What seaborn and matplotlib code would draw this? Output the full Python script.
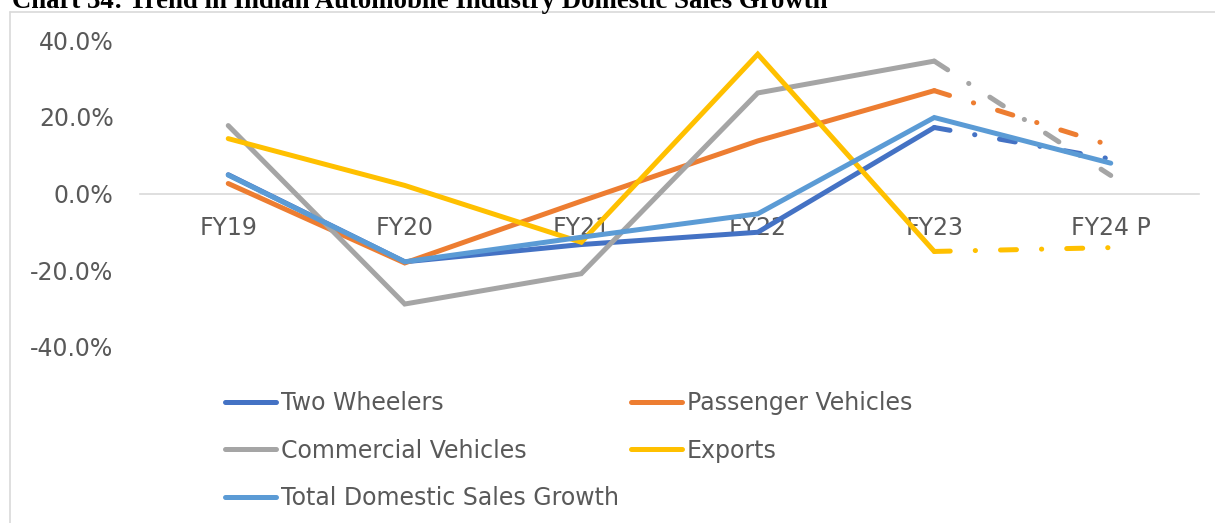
import matplotlib
matplotlib.use("Agg")
import matplotlib.pyplot as plt
from matplotlib.lines import Line2D
import seaborn as sns
import pandas as pd

years = ["FY19", "FY20", "FY21", "FY22", "FY23", "FY24 P"]
two_wheelers = [4.9, -17.8, -13.3, -10.1, 17.2, 9.0]
passenger_vehicles = [2.6, -18.1, -2.0, 13.7, 26.8, 12.5]
commercial_vehicles = [17.7, -28.8, -20.9, 26.2, 34.5, 4.7]
exports = [14.3, 2.1, -12.7, 36.3, -15.1, -14.1]
total_domestic = [4.8, -17.8, -11.4, -5.3, 19.8, 7.9]

series = {
    "Two Wheelers": two_wheelers,
    "Passenger Vehicles": passenger_vehicles,
    "Commercial Vehicles": commercial_vehicles,
    "Exports": exports,
    "Total Domestic Sales Growth": total_domestic,
}
colors = {
    "Two Wheelers": "#4472C4",
    "Passenger Vehicles": "#ED7D31",
    "Commercial Vehicles": "#A5A5A5",
    "Exports": "#FFC000",
    "Total Domestic Sales Growth": "#5B9BD5",
}
projected = ["Two Wheelers", "Passenger Vehicles", "Commercial Vehicles", "Exports"]

rows = []
for name, vals in series.items():
    for i, (yr, v) in enumerate(zip(years, vals)):
        rows.append({"pos": i, "Year": yr, "Growth": v, "Segment": name})
df = pd.DataFrame(rows)

# actuals: solid up to FY23 (total drawn solid throughout)
last_actual = years.index("FY23")
solid = df[(df["pos"] <= last_actual) | (df["Segment"] == "Total Domestic Sales Growth")]
proj = df[(df["pos"] >= last_actual) & (df["Segment"].isin(projected))]

sns.set_theme(style="white")
plt.rcParams["font.family"] = ["DejaVu Sans"]
text_color = "#595959"

W, H = 1215, 523
fig = plt.figure(figsize=(W / 100, H / 100), dpi=100)
ax = fig.add_axes([140 / W, 1 - 347 / H, 1059 / W, 307 / H])

lw = 3.6
for name in projected:
    sub = proj[proj["Segment"] == name]
    sns.lineplot(data=sub, x="pos", y="Growth", color=colors[name], linewidth=lw,
                 ax=ax, legend=False, sort=False,
                 linestyle=(0, (3.2, 5, 0.05, 5)), dash_capstyle="round",
                 solid_capstyle="round")

for name in series:
    sub = solid[solid["Segment"] == name]
    sns.lineplot(data=sub, x="pos", y="Growth", color=colors[name], linewidth=lw,
                 ax=ax, legend=False, sort=False, solid_capstyle="round",
                 solid_joinstyle="miter")

ax.set_xlim(-0.5, len(years) - 0.5)
ax.set_ylim(-40, 40)
ax.set_xticks(range(len(years)))
ax.set_xticklabels(years)
ax.set_yticks([-40, -20, 0, 20, 40])
ax.set_yticklabels([f"{v:.1f}%" for v in [-40, -20, 0, 20, 40]])
ax.set_xlabel("")
ax.set_ylabel("")
ax.grid(False)

for s in ["top", "right", "left"]:
    ax.spines[s].set_visible(False)
ax.spines["bottom"].set_position(("data", 0))
ax.spines["bottom"].set_color("#D9D9D9")
ax.spines["bottom"].set_linewidth(1.2)
ax.spines["bottom"].set_zorder(0)

ax.tick_params(axis="x", length=0, pad=16, labelsize=17, labelcolor=text_color)
ax.tick_params(axis="y", length=0, pad=19, labelsize=17, labelcolor=text_color)
ax.patch.set_alpha(0)

# legend, row-major order in two columns
order = ["Two Wheelers", "Commercial Vehicles", "Total Domestic Sales Growth",
         "Passenger Vehicles", "Exports"]
handles = [Line2D([0], [0], color=colors[n], linewidth=lw, solid_capstyle="round")
           for n in order]
leg = fig.legend(handles, order, loc="upper left",
                 bbox_to_anchor=(225 / W, 1 - 391 / H), ncol=2, frameon=False,
                 fontsize=17, handlelength=2.16, handletextpad=0.2,
                 columnspacing=0.52, labelspacing=1.0, borderpad=0, borderaxespad=0)
for t in leg.get_texts():
    t.set_color(text_color)

# chart frame
frame_c = "#D9D9D9"
fig.add_artist(Line2D([10 / W, 1], [1 - 12 / H, 1 - 12 / H], color=frame_c, lw=1.2,
                      transform=fig.transFigure))
fig.add_artist(Line2D([10 / W, 10 / W], [0, 1 - 12 / H], color=frame_c, lw=1.2,
                      transform=fig.transFigure))

fig.text(12 / W, 1 - 8 / H,
         "Chart 34: Trend in Indian Automobile Industry Domestic Sales Growth",
         family="Liberation Serif", fontweight="bold", fontsize=19.3, color="black",
         ha="left", va="baseline")

fig.savefig("out.png", dpi=100)
